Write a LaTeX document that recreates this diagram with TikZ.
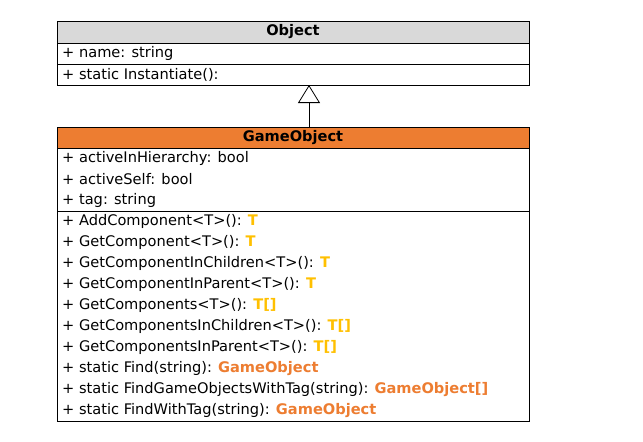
\documentclass[tikz,border=0pt]{standalone}
\usepackage{fontspec}
\setmainfont{DejaVu Sans}
\usetikzlibrary{arrows.meta}
\definecolor{hdrgray}{HTML}{D9D9D9}
\definecolor{hdrorange}{HTML}{ED7D31}
\definecolor{tgold}{HTML}{FFC000}
\tikzset{
  x=1pt, y=-1pt,
  box/.style={draw=black, line width=1pt},
  member/.style={anchor=west, inner sep=0pt, font=\fontsize{14.6}{16}\selectfont},
  title/.style={inner sep=0pt, font=\fontsize{14.6}{16}\selectfont\bfseries},
  inherit/.style={draw=black, line width=0.8pt, -{Triangle[open, width=22pt, length=18pt]}},
}
\newcommand{\tg}[1]{\textcolor{tgold}{\textbf{#1}}}
\newcommand{\og}[1]{\textcolor{hdrorange}{\textbf{#1}}}
\begin{document}
\begin{tikzpicture}
\useasboundingbox[fill=white] (0,0) rectangle (643,442);
% Object class
\path[box, fill=hdrgray] (57,21) rectangle (529,43);
\path[box] (57,43) rectangle (529,64);
\path[box] (57,64) rectangle (529,85);
\node[title] (objtitle) at (293,32) {Object};
\node[member] (objname) at (62,53.5) {+ name: string};
\node[member] (objinst) at (62,74.5) {+ static Instantiate():};
\coordinate (objbottom) at (309,85);
% GameObject class
\path[box, fill=hdrorange] (57,127) rectangle (529,148);
\path[box] (57,148) rectangle (529,211);
\path[box] (57,211) rectangle (529,421);
\coordinate (gotop) at (309,127);
\node[title] (gotitle) at (293,137.5) {GameObject};
\node[member] (a1) at (62,158.5) {+ activeInHierarchy: bool};
\node[member] (a2) at (62,179.5) {+ activeSelf: bool};
\node[member] (a3) at (62,200.5) {+ tag: string};
\node[member] (m1) at (62,221.5) {+ AddComponent<T>(): \tg{T}};
\node[member] (m2) at (62,242.5) {+ GetComponent<T>(): \tg{T}};
\node[member] (m3) at (62,263.5) {+ GetComponentInChildren<T>(): \tg{T}};
\node[member] (m4) at (62,284.5) {+ GetComponentInParent<T>(): \tg{T}};
\node[member] (m5) at (62,305.5) {+ GetComponents<T>(): \tg{T[]}};
\node[member] (m6) at (62,326.5) {+ GetComponentsInChildren<T>(): \tg{T[]}};
\node[member] (m7) at (62,347.5) {+ GetComponentsInParent<T>(): \tg{T[]}};
\node[member] (m8) at (62,368.5) {+ static Find(string): \og{GameObject}};
\node[member] (m9) at (62,389.5) {+ static FindGameObjectsWithTag(string): \og{GameObject[]}};
\node[member] (m10) at (62,410.5) {+ static FindWithTag(string): \og{GameObject}};
% inheritance
\draw[inherit] (gotop) -- (objbottom);
\end{tikzpicture}
\end{document}
